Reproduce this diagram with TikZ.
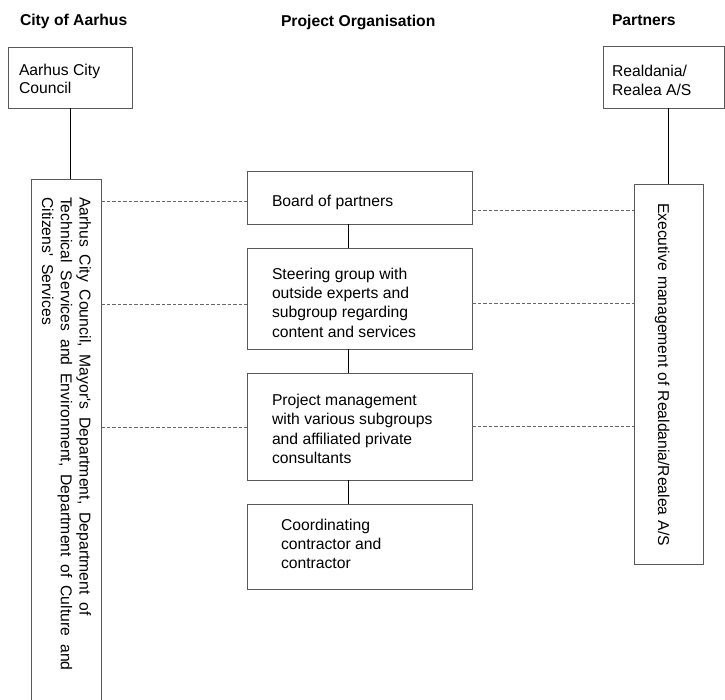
\documentclass[tikz,border=0pt]{standalone}
\usepackage{fontspec}
\setmainfont{Liberation Sans}
\newfontfamily\widesans[WordSpace=1.7,LetterSpace=0.6]{Liberation Sans}
\newfontfamily\semiwidesans[WordSpace=1.15]{Liberation Sans}
\begin{document}
\begin{tikzpicture}[x=1pt,y=-1pt,
  box/.style={draw=black!65, line width=0.9pt, inner sep=0pt, outer sep=0pt, anchor=north west},
  txt/.style={inner sep=0pt, outer sep=0pt, align=left, anchor=north west, font=\fontsize{15.7}{19.3}\selectfont},
  toptxt/.style={txt, font=\fontsize{15.7}{18.6}\selectfont},
  sidetxt/.style={txt, rotate=-90, font=\widesans\fontsize{15.7}{18.8}\selectfont},
  sidetxtb/.style={txt, rotate=-90, font=\semiwidesans\fontsize{15.7}{18.8}\selectfont},
  hdr/.style={inner sep=0pt, outer sep=0pt, anchor=base west, font=\bfseries\fontsize{15.7}{19}\selectfont},
  link/.style={draw=black, line width=0.9pt},
  dashlink/.style={draw=black!60, line width=0.9pt, dash pattern=on 3.5pt off 2pt}]
\useasboundingbox (0,0) rectangle (725,699);

% headers
\node[hdr] (h1) at (20,25.5) {City of Aarhus};
\node[hdr] (h2) at (281,26) {Project Organisation};
\node[hdr] (h3) at (612,25) {Partners};

% boxes
\node[box, minimum width=124pt, minimum height=61pt] (acc) at (8,47) {};
\node[box, minimum width=121pt, minimum height=62pt] (rea) at (603,46) {};
\node[box, minimum width=70pt, minimum height=526pt] (lb) at (31,179) {};
\node[box, minimum width=69pt, minimum height=380pt] (rb) at (634,184) {};
\node[box, minimum width=225pt, minimum height=53pt] (b1) at (247,171) {};
\node[box, minimum width=225pt, minimum height=101pt] (b2) at (247,248) {};
\node[box, minimum width=225pt, minimum height=107pt] (b3) at (247,373) {};
\node[box, minimum width=225pt, minimum height=85pt] (b4) at (247,504) {};

% texts
\node[toptxt] (acct) at (19,63.8) {Aarhus City\\Council};
\node[toptxt] (reat) at (612,65.3) {Realdania/\\Realea A/S};
\node[txt] (b1t) at (272,195.1) {Board of partners};
\node[txt] (b2t) at (272,267.8) {Steering group with\\outside experts and\\subgroup regarding\\content and services};
\node[txt] (b3t) at (272,394.3) {Project management\\with various subgroups\\and affiliated private\\consultants};
\node[txt] (b4t) at (281,518.8) {Coordinating\\contractor and\\contractor};
\node[sidetxt] (lbt) at (91,197) {Aarhus City Council, Mayor's Department, Department of\\Technical Services and Environment, Department of Culture and\\Citizens' Services};
\node[sidetxtb] (rbt) at (669.6,203) {Executive management of Realdania/Realea A/S};

% solid connectors
\draw[link] (acc.south) -- (acc.south |- lb.north);
\draw[link] (rb.north) -- (rb.north |- rea.south);
\draw[link] ([xshift=101pt]b1.south west) -- ([xshift=101pt]b2.north west);
\draw[link] ([xshift=101pt]b2.south west) -- ([xshift=101pt]b3.north west);
\draw[link] ([xshift=101pt]b3.south west) -- ([xshift=101pt]b4.north west);

% dashed connectors
\coordinate (yl1) at (0,201);
\coordinate (yl2) at (0,304);
\coordinate (yl3) at (0,427);
\coordinate (yr1) at (0,210);
\coordinate (yr2) at (0,303);
\coordinate (yr3) at (0,426);
\draw[dashlink] (lb.east |- yl1) -- (b1.west |- yl1);
\draw[dashlink] (lb.east |- yl2) -- (b2.west |- yl2);
\draw[dashlink] (lb.east |- yl3) -- (b3.west |- yl3);
\draw[dashlink] (b1.east |- yr1) -- (rb.west |- yr1);
\draw[dashlink] (b2.east |- yr2) -- (rb.west |- yr2);
\draw[dashlink] (b3.east |- yr3) -- (rb.west |- yr3);
\end{tikzpicture}
\end{document}
